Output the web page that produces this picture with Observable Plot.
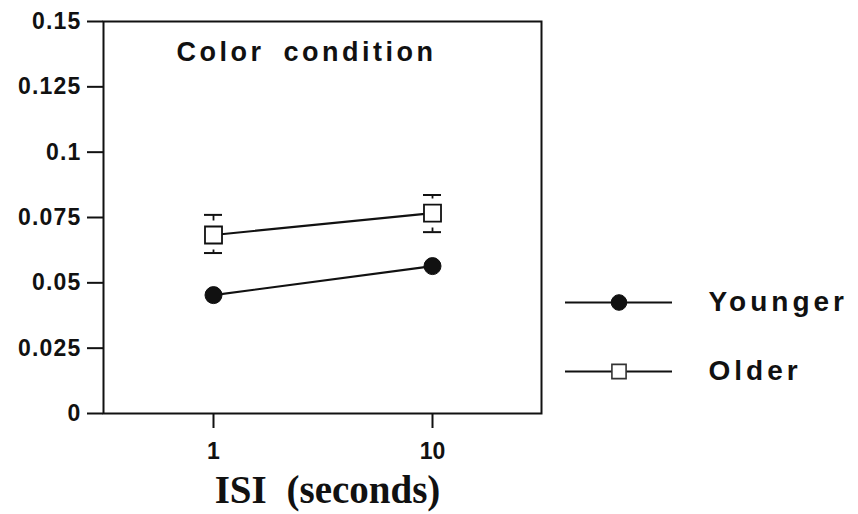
<!DOCTYPE html>
<html>
<head>
<meta charset="utf-8">
<script src="https://cdn.jsdelivr.net/npm/d3@7"></script>
<script src="https://cdn.jsdelivr.net/npm/@observablehq/plot@0.6"></script>
<style>
  html, body { margin: 0; padding: 0; background: #fff; }
  #wrap { position: relative; width: 858px; height: 514px; }
  #legend { position: absolute; left: 555px; top: 270px; }
</style>
</head>
<body>
<div id="wrap"><div id="main"></div><div id="legend"></div></div>
<script>
const isi = ["1", "10"];
const younger = [0.0453, 0.0564];
const older = [0.0683, 0.0767];
const olderLo = [0.0614, 0.0694];
const olderHi = [0.0760, 0.0836];
const yTicks = [0, 0.025, 0.05, 0.075, 0.1, 0.125, 0.15];
const yTickLabels = ["0", "0.025", "0.05", "0.075", "0.1", "0.125", "0.15"];
const seriesNames = ["Younger", "Older"];
const title = "Color condition";
const xLabel = "ISI (seconds)";

const ink = "#111";
const youngRows = isi.map((x, i) => ({x, y: younger[i]}));
const oldRows = isi.map((x, i) => ({x, y: older[i], lo: olderLo[i], hi: olderHi[i]}));

const sans = "'Liberation Sans', Arial, Helvetica, sans-serif";
const serif = "'Liberation Serif', 'Times New Roman', serif";

const chart = Plot.plot({
  width: 858, height: 514,
  marginLeft: 103, marginRight: 317, marginTop: 21, marginBottom: 101,
  x: {type: "point", domain: isi, padding: 0.5},
  y: {domain: [0, 0.15]},
  style: {fontFamily: sans, background: "white", color: ink},
  marks: [
    Plot.frame({stroke: ink, strokeWidth: 2}),
    Plot.axisY({ticks: yTicks, tickFormat: d => yTickLabels[yTicks.indexOf(d)], tickSize: 16, tickPadding: 6,
      fontSize: 23, fontWeight: "bold", strokeWidth: 2, label: null}),
    Plot.axisX({tickSize: 15, tickPadding: 14, fontSize: 23, fontWeight: "bold", strokeWidth: 2, label: null}),
    // error bars
    Plot.ruleX(oldRows, {x: "x", y1: "lo", y2: "hi", stroke: ink, strokeWidth: 1.8}),
    Plot.ruleY(oldRows, {y: "hi", x1: "x", x2: "x", insetLeft: -9, insetRight: -9, stroke: ink, strokeWidth: 2}),
    Plot.ruleY(oldRows, {y: "lo", x1: "x", x2: "x", insetLeft: -9, insetRight: -9, stroke: ink, strokeWidth: 2}),
    // halo
    Plot.dot(oldRows, {x: "x", y: "y", symbol: "square", r: 9.6, fill: "white", stroke: "white", strokeWidth: 12}),
    // lines
    Plot.line(youngRows, {x: "x", y: "y", stroke: ink, strokeWidth: 2.2}),
    Plot.line(oldRows, {x: "x", y: "y", stroke: ink, strokeWidth: 2.2}),
    Plot.dot(youngRows, {x: "x", y: "y", symbol: "circle", r: 8.5, fill: ink, stroke: ink, strokeWidth: 1}),
    Plot.dot(oldRows, {x: "x", y: "y", symbol: "square", r: 9.6, fill: "white", stroke: ink, strokeWidth: 1.8}),
    Plot.text([title], {frameAnchor: "top", dy: 39, dx: -16, lineAnchor: "bottom", fontSize: 27, fontWeight: "bold", fill: ink}),
    Plot.text([xLabel], {frameAnchor: "bottom", dy: 89, dx: 5, lineAnchor: "bottom", fontSize: 39, fontWeight: "bold", fontFamily: serif, fill: ink})
  ]
});
document.getElementById("main").appendChild(chart);

d3.select(chart).selectAll("text").each(function() {
  if (this.textContent === title) d3.select(this).style("letter-spacing", "3.5px").style("word-spacing", "8px");
  else if (this.textContent === xLabel) d3.select(this).style("word-spacing", "10px");
  else if (yTickLabels.includes(this.textContent) && this.textContent !== "1") d3.select(this).style("letter-spacing", "1.2px");
});

const legend = Plot.plot({
  width: 303, height: 130, margin: 0,
  x: {domain: [0, 1], range: [10, 117], axis: null},
  y: {type: "point", domain: seriesNames, range: [32, 101], padding: 0, axis: null},
  style: {fontFamily: sans, background: "transparent", color: ink},
  marks: [
    Plot.ruleY(seriesNames, {y: d => d, x1: 0, x2: 1, stroke: ink, strokeWidth: 1.8}),
    Plot.dot([seriesNames[0]], {x: 0.5, y: d => d, symbol: "circle", r: 7.8, fill: ink, stroke: ink, strokeWidth: 1}),
    Plot.dot([seriesNames[1]], {x: 0.5, y: d => d, symbol: "square", r: 8, fill: "white", stroke: "#333", strokeWidth: 1.6}),
    Plot.text(seriesNames, {x: 1, y: d => d, text: d => d, dx: 36, textAnchor: "start", fontSize: 28, fontWeight: "bold", fill: ink})
  ]
});
document.getElementById("legend").appendChild(legend);
d3.select(legend).selectAll("text").style("letter-spacing", "4px");
</script>
</body>
</html>
